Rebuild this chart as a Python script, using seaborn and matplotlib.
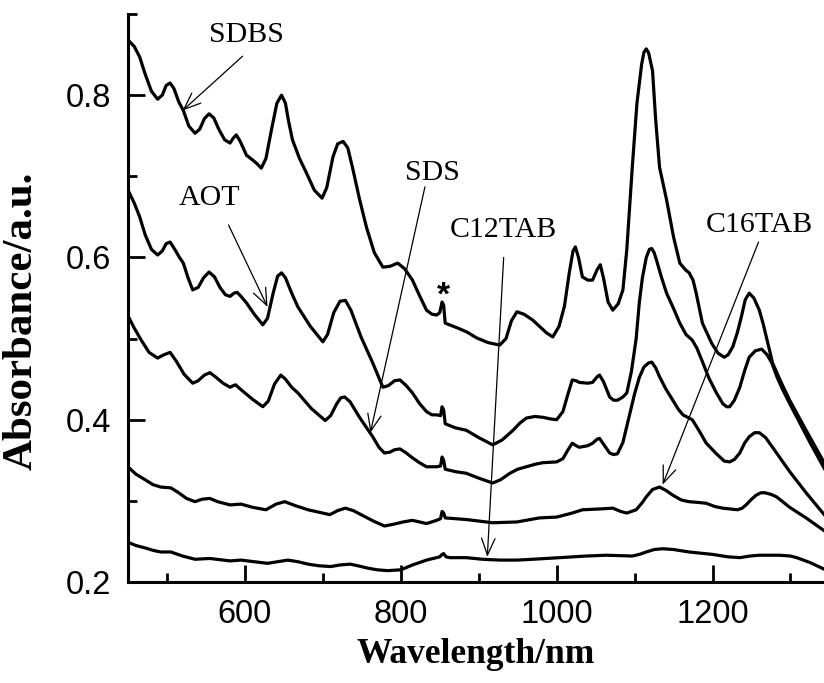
import numpy as np
import pandas as pd
import matplotlib
matplotlib.use("Agg")
import matplotlib.pyplot as plt
from matplotlib.ticker import MultipleLocator
import seaborn as sns

# ---- data ----
sdbs_x = [450, 458, 465, 472, 480, 488, 494, 499, 504, 509, 515, 521, 528, 536, 542, 548, 554, 560, 567, 574,
          581, 585, 589, 594, 602, 610, 615, 621, 627, 634, 641, 647, 652, 656, 661, 670, 679, 689, 699, 705,
          713, 719, 726, 732, 738, 747, 756, 766, 777, 786, 796, 805, 815, 824, 833, 840, 846, 850, 853, 855,
          857, 865, 873, 885, 897, 912, 927, 935, 942, 949, 958, 969, 978, 987, 995, 1003, 1010, 1016, 1021,
          1024, 1028, 1033, 1040, 1046, 1052, 1056, 1060, 1066, 1072, 1079, 1085, 1090, 1097, 1103, 1109,
          1112, 1115, 1118, 1123, 1127, 1132, 1141, 1150, 1158, 1165, 1170, 1175, 1179, 1187, 1199, 1207,
          1215, 1220, 1226, 1232, 1237, 1242, 1247, 1253, 1260, 1265, 1269, 1277, 1288, 1299, 1320, 1345]
sdbs_y = [0.868, 0.860, 0.847, 0.826, 0.805, 0.795, 0.800, 0.812, 0.815, 0.808, 0.792, 0.781, 0.762, 0.753,
          0.758, 0.771, 0.777, 0.772, 0.757, 0.745, 0.741, 0.747, 0.751, 0.743, 0.726, 0.720, 0.716, 0.710,
          0.722, 0.757, 0.790, 0.800, 0.790, 0.768, 0.745, 0.722, 0.704, 0.683, 0.673, 0.686, 0.724, 0.740,
          0.743, 0.735, 0.711, 0.672, 0.637, 0.606, 0.588, 0.589, 0.593, 0.586, 0.572, 0.553, 0.535, 0.530,
          0.529, 0.532, 0.545, 0.541, 0.519, 0.516, 0.513, 0.508, 0.501, 0.495, 0.492, 0.500, 0.522, 0.533,
          0.530, 0.523, 0.515, 0.507, 0.502, 0.515, 0.540, 0.580, 0.608, 0.613, 0.600, 0.576, 0.572, 0.572,
          0.585, 0.591, 0.575, 0.545, 0.535, 0.543, 0.560, 0.610, 0.711, 0.790, 0.838, 0.853, 0.857, 0.852,
          0.830, 0.770, 0.711, 0.671, 0.625, 0.593, 0.585, 0.581, 0.572, 0.556, 0.519, 0.494, 0.482, 0.477,
          0.480, 0.490, 0.508, 0.527, 0.548, 0.556, 0.550, 0.535, 0.518, 0.502, 0.470, 0.446, 0.424, 0.387,
          0.344]

aot_x = [450, 458, 465, 472, 480, 488, 494, 499, 504, 510, 516, 521, 527, 533, 540, 547, 554, 561, 568, 575,
         581, 586, 590, 595, 602, 612, 623, 629, 636, 642, 647, 652, 660, 668, 684, 700, 706, 714, 722, 729,
         736, 749, 764, 777, 784, 792, 799, 807, 815, 824, 833, 840, 846, 851, 853, 855, 857, 870, 884, 900,
         918, 930, 944, 953, 961, 972, 982, 992, 1000, 1008, 1014, 1020, 1025, 1029, 1040, 1046, 1052, 1055,
         1060, 1068, 1073, 1078, 1085, 1090, 1096, 1102, 1106, 1110, 1115, 1119, 1122, 1125, 1128, 1134, 1141,
         1150, 1158, 1166, 1174, 1180, 1186, 1195, 1205, 1213, 1218, 1222, 1228, 1235, 1241, 1247, 1255,
         1263, 1270, 1276, 1283, 1290, 1300, 1312, 1325, 1345]
aot_y = [0.683, 0.667, 0.650, 0.628, 0.610, 0.603, 0.608, 0.617, 0.619, 0.610, 0.600, 0.593, 0.575, 0.560,
         0.563, 0.575, 0.582, 0.576, 0.563, 0.554, 0.552, 0.556, 0.557, 0.552, 0.544, 0.530, 0.517, 0.525,
         0.555, 0.577, 0.581, 0.575, 0.556, 0.539, 0.515, 0.496, 0.505, 0.532, 0.546, 0.547, 0.535, 0.502,
         0.470, 0.440, 0.442, 0.448, 0.449, 0.442, 0.433, 0.420, 0.410, 0.406, 0.406, 0.405, 0.416, 0.412,
         0.395, 0.390, 0.387, 0.378, 0.369, 0.375, 0.387, 0.396, 0.402, 0.404, 0.403, 0.401, 0.400, 0.410,
         0.430, 0.449, 0.448, 0.446, 0.445, 0.446, 0.453, 0.455, 0.447, 0.428, 0.424, 0.424, 0.428, 0.433,
         0.460, 0.500, 0.544, 0.575, 0.600, 0.610, 0.611, 0.606, 0.597, 0.577, 0.556, 0.537, 0.519, 0.505,
         0.498, 0.488, 0.474, 0.452, 0.433, 0.420, 0.416, 0.416, 0.424, 0.440, 0.460, 0.477, 0.485, 0.487,
         0.480, 0.470, 0.452, 0.437, 0.418, 0.396, 0.372, 0.337]

sds_x = [450, 458, 467, 477, 488, 496, 504, 512, 522, 533, 540, 548, 555, 562, 572, 581, 585, 588, 595, 610,
         623, 630, 638, 646, 652, 660, 668, 685, 703, 710, 718, 723, 728, 735, 747, 764, 772, 779, 786, 792,
         799, 807, 815, 824, 833, 846, 851, 853, 855, 857, 870, 884, 900, 918, 928, 940, 950, 961, 972, 982,
         1000, 1008, 1014, 1020, 1025, 1029, 1040, 1046, 1052, 1055, 1060, 1068, 1073, 1078, 1085, 1094, 1100,
         1106, 1112, 1118, 1122, 1127, 1132, 1140, 1149, 1156, 1162, 1168, 1174, 1183, 1192, 1205, 1215, 1222,
         1228, 1235, 1241, 1247, 1254, 1260, 1268, 1277, 1288, 1299, 1320, 1345]
sds_y = [0.528, 0.513, 0.498, 0.483, 0.476, 0.480, 0.483, 0.472, 0.456, 0.445, 0.448, 0.455, 0.458, 0.453,
         0.445, 0.440, 0.442, 0.443, 0.437, 0.425, 0.416, 0.423, 0.444, 0.455, 0.450, 0.440, 0.433, 0.414,
         0.399, 0.405, 0.420, 0.427, 0.428, 0.422, 0.403, 0.379, 0.366, 0.359, 0.360, 0.363, 0.364, 0.359,
         0.353, 0.347, 0.342, 0.342, 0.343, 0.354, 0.350, 0.339, 0.336, 0.334, 0.328, 0.322, 0.326, 0.334,
         0.339, 0.342, 0.345, 0.347, 0.348, 0.352, 0.362, 0.371, 0.368, 0.366, 0.368, 0.371, 0.376, 0.377,
         0.370, 0.359, 0.357, 0.358, 0.372, 0.408, 0.432, 0.452, 0.465, 0.470, 0.471, 0.464, 0.453, 0.438,
         0.424, 0.413, 0.406, 0.403, 0.400, 0.386, 0.371, 0.358, 0.349, 0.348, 0.351, 0.359, 0.371, 0.379,
         0.384, 0.384, 0.378, 0.366, 0.351, 0.336, 0.310, 0.281]

c16_x = [450, 460, 472, 482, 492, 505, 515, 525, 536, 545, 555, 565, 581, 595, 610, 627, 640, 651, 665, 681,
         695, 709, 719, 729, 739, 749, 765, 779, 790, 803, 815, 833, 846, 851, 853, 855, 857, 870, 884, 918,
         949, 978, 1000, 1020, 1033, 1055, 1072, 1082, 1090, 1102, 1110, 1115, 1123, 1132, 1140, 1149, 1160,
         1170, 1182, 1192, 1203, 1213, 1232, 1238, 1243, 1250, 1256, 1262, 1267, 1275, 1282, 1290, 1299,
         1320, 1345]
c16_y = [0.342, 0.333, 0.326, 0.320, 0.317, 0.316, 0.310, 0.303, 0.299, 0.302, 0.303, 0.299, 0.295, 0.296,
         0.292, 0.289, 0.296, 0.299, 0.294, 0.289, 0.286, 0.283, 0.288, 0.291, 0.288, 0.283, 0.275, 0.269,
         0.271, 0.274, 0.276, 0.272, 0.276, 0.278, 0.287, 0.285, 0.279, 0.278, 0.277, 0.273, 0.274, 0.279,
         0.280, 0.285, 0.289, 0.290, 0.291, 0.287, 0.285, 0.289, 0.298, 0.305, 0.314, 0.317, 0.313, 0.307,
         0.301, 0.299, 0.298, 0.297, 0.293, 0.291, 0.289, 0.291, 0.295, 0.302, 0.307, 0.310, 0.310, 0.308,
         0.305, 0.299, 0.292, 0.279, 0.262]

c12_x = [450, 460, 472, 482, 492, 505, 520, 536, 555, 581, 595, 612, 629, 642, 655, 668, 681, 695, 710, 722,
         735, 745, 758, 770, 783, 800, 815, 833, 850, 853, 855, 858, 863, 884, 905, 927, 949, 969, 1004, 1038,
         1064, 1097, 1106, 1115, 1125, 1136, 1150, 1170, 1200, 1220, 1235, 1248, 1260, 1286, 1300, 1308,
         1325, 1345]
c12_y = [0.249, 0.245, 0.242, 0.239, 0.237, 0.237, 0.232, 0.228, 0.229, 0.226, 0.227, 0.225, 0.223, 0.225,
         0.227, 0.225, 0.222, 0.220, 0.219, 0.221, 0.222, 0.220, 0.217, 0.215, 0.214, 0.215, 0.221, 0.227,
         0.231, 0.234, 0.235, 0.231, 0.230, 0.230, 0.228, 0.227, 0.227, 0.228, 0.230, 0.232, 0.233, 0.232,
         0.234, 0.237, 0.240, 0.241, 0.240, 0.237, 0.234, 0.231, 0.230, 0.232, 0.233, 0.233, 0.232, 0.230,
         0.224, 0.215]

series = {"SDBS": (sdbs_x, sdbs_y), "AOT": (aot_x, aot_y), "SDS": (sds_x, sds_y),
          "C16TAB": (c16_x, c16_y), "C12TAB": (c12_x, c12_y)}

# annotation: label, text position, arrow tail, arrow head (data coords)
ann_labels = ["SDBS", "AOT", "SDS", "C12TAB", "C16TAB"]
ann_text = [(602, 0.874), (555, 0.673), (840, 0.704), (932, 0.634), (1260, 0.640)]
ann_tail = [(597, 0.848), (579, 0.640), (831, 0.687), (932, 0.600), (1259, 0.619)]
ann_head = [(520, 0.781), (629, 0.539), (761, 0.384), (911, 0.231), (1136, 0.320)]
star_pos = (855, 0.556)

xticks_major = [600, 800, 1000, 1200]
yticks_major = [0.2, 0.4, 0.6, 0.8]

# ---- plot ----
sns.set_style("ticks")
plt.rcParams["font.family"] = ["Liberation Sans", "DejaVu Sans"]
plt.rcParams["text.color"] = "black"
plt.rcParams["axes.labelcolor"] = "black"
plt.rcParams["xtick.color"] = "black"
plt.rcParams["ytick.color"] = "black"

fig = plt.figure(figsize=(8.24, 6.83), dpi=100)
ax = fig.add_axes([128 / 824, 101 / 683, 696 / 824, 568 / 683])

frames = []
for name, (xs, ys) in series.items():
    frames.append(pd.DataFrame({"Wavelength": xs, "Absorbance": ys, "sample": name}))
df = pd.concat(frames, ignore_index=True)

sns.lineplot(data=df, x="Wavelength", y="Absorbance", hue="sample", units="sample",
             estimator=None, sort=False, palette=["black"] * 5, linewidth=2.3,
             legend=False, ax=ax)
for ln in ax.lines:
    ln.set_solid_joinstyle("round")
    ln.set_solid_capstyle("round")

ax.set_xlim(450, 1343)
ax.set_ylim(0.2, 0.9)
ax.set_xticks(xticks_major)
ax.set_yticks(yticks_major)
ax.set_yticklabels([f"{v:.1f}" for v in yticks_major])
ax.xaxis.set_minor_locator(MultipleLocator(100))
ax.yaxis.set_minor_locator(MultipleLocator(0.1))

for s in ["top", "right"]:
    ax.spines[s].set_visible(False)
for s in ["left", "bottom"]:
    ax.spines[s].set_linewidth(2.2)
    ax.spines[s].set_color("black")

ax.tick_params(which="major", direction="in", length=12, width=2.0, labelsize=23.5, pad=12,
               colors="black")
ax.tick_params(which="minor", direction="in", length=6.5, width=2.0, colors="black")

ax.set_xlabel("Wavelength/nm", family="Liberation Serif", weight="bold", fontsize=25.5, labelpad=6,
              color="black")
ax.set_ylabel("Absorbance/a.u.", family="Liberation Serif", weight="bold", fontsize=31, color="black")
ax.yaxis.set_label_coords(-0.126, 0.46)

for lab, tp, tl, hd in zip(ann_labels, ann_text, ann_tail, ann_head):
    ax.text(tp[0], tp[1], lab, family="Liberation Serif", fontsize=21.5, ha="center", va="center",
            color="black")
    ax.annotate("", xy=hd, xytext=tl,
                arrowprops=dict(arrowstyle="->,head_length=0.55,head_width=0.22", lw=0.9,
                                color="black", shrinkA=0, shrinkB=0, mutation_scale=22))

ax.text(star_pos[0], star_pos[1] - 0.003, "*", fontsize=24, weight="bold", ha="center", va="center",
        color="black")

fig.savefig("out.png", dpi=100)
